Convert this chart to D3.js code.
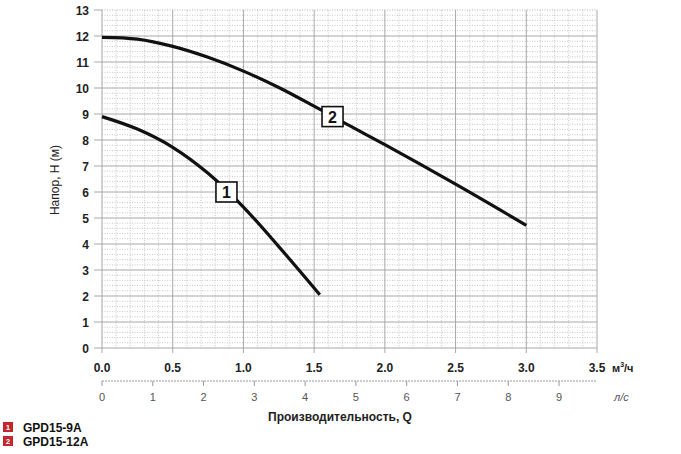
<!DOCTYPE html>
<html><head><meta charset="utf-8">
<script src="https://cdn.jsdelivr.net/npm/d3@7"></script>
<style>body{margin:0;background:#fff}svg{display:block;font-family:"Liberation Sans",Arial,sans-serif}</style>
</head><body><svg id="c" width="681" height="454"></svg>
<script>
const curve1 = [[0,8.9],[0.25,8.42],[0.5,7.72],[0.75,6.72],[1.0,5.42],[1.25,3.9],[1.54,2.05]];
const curve2 = [[0,11.95],[0.25,11.88],[0.5,11.6],[0.75,11.18],[1.0,10.65],[1.25,10.02],[1.5,9.3],[1.75,8.55],[2.0,7.82],[2.5,6.3],[3.0,4.72]];
const seriesNames = ["GPD15-9A","GPD15-12A"];
const labelPos = [[0.88,6.0],[1.63,8.9]];
const xTicks = [0,0.5,1,1.5,2,2.5,3,3.5];
const yTicks = d3.range(0,14);
const lsTicks = [0,1,2,3,4,5,6,7,8,9];

const svg = d3.select("#c");
const x = d3.scaleLinear().domain([0,3.5]).range([102,597]);
const y = d3.scaleLinear().domain([0,13]).range([348,10]);
const xl = d3.scaleLinear().domain([0,9]).range([102,559]);

const g = svg.append("g");
g.selectAll(".mx").data(d3.range(0,35).map(i=>i/10).filter((d,i)=>i%5!==0)).join("line")
 .attr("x1",d=>x(d)).attr("x2",d=>x(d)).attr("y1",y(13)).attr("y2",y(0))
 .attr("stroke","#c8c8c8").attr("stroke-width",1).attr("stroke-dasharray","1,1.5");
g.selectAll(".my").data(d3.range(0,66).map(i=>i/5).filter((d,i)=>i%5!==0)).join("line")
 .attr("x1",x(0)).attr("x2",x(3.5)).attr("y1",d=>y(d)).attr("y2",d=>y(d))
 .attr("stroke","#c8c8c8").attr("stroke-width",1).attr("stroke-dasharray","1,1.5");
g.append("line").attr("x1",x(0)).attr("x2",x(3.5)).attr("y1",y(13)).attr("y2",y(13))
 .attr("stroke","#b0b0b0").attr("stroke-dasharray","1,1.5");
g.selectAll(".Mx").data(xTicks).join("line")
 .attr("x1",d=>x(d)).attr("x2",d=>x(d)).attr("y1",y(13)).attr("y2",y(0)+5)
 .attr("stroke","#a8a8a8").attr("stroke-width",1);
g.selectAll(".My").data(yTicks.filter(d=>d<13)).join("line")
 .attr("x1",x(0)-8).attr("x2",x(3.5)).attr("y1",d=>y(d)).attr("y2",d=>y(d))
 .attr("stroke","#a8a8a8").attr("stroke-width",1);
g.append("line").attr("x1",x(0)-8).attr("x2",x(0)).attr("y1",y(13)).attr("y2",y(13)).attr("stroke","#a8a8a8");

svg.append("g").selectAll("text").data(yTicks).join("text")
 .attr("x",89).attr("y",d=>y(d)+4.5).attr("text-anchor","end")
 .attr("font-size",12).attr("font-weight","bold").attr("fill","#222").text(d=>d);
svg.append("g").selectAll("text").data(xTicks).join("text")
 .attr("x",d=>x(d)).attr("y",372).attr("text-anchor","middle")
 .attr("font-size",12).attr("font-weight","bold").attr("fill","#222").text(d=>d.toFixed(1));
svg.append("text").attr("x",612).attr("y",372).attr("font-size",11).attr("font-weight","bold").attr("fill","#222")
 .html('м<tspan font-size="7" dy="-5">3</tspan><tspan dy="5">/ч</tspan>');

svg.append("line").attr("x1",x(0)).attr("x2",x(3.5)).attr("y1",381).attr("y2",381)
 .attr("stroke","#999").attr("stroke-dasharray","2,1");
svg.append("g").selectAll("line").data(lsTicks).join("line")
 .attr("x1",d=>xl(d)).attr("x2",d=>xl(d)).attr("y1",381).attr("y2",386).attr("stroke","#999");
svg.append("g").selectAll("text").data(lsTicks).join("text")
 .attr("x",d=>xl(d)).attr("y",401).attr("text-anchor","middle")
 .attr("font-size",11).attr("fill","#555").text(d=>d);
svg.append("text").attr("x",614).attr("y",401).attr("font-size",11).attr("font-style","italic").attr("fill","#555").text("л/с");

svg.append("text").attr("x",340).attr("y",421).attr("text-anchor","middle")
 .attr("font-size",12).attr("font-weight","bold").attr("fill","#222").text("Производительность, Q");
svg.append("text").attr("transform","translate(59,180) rotate(-90)").attr("text-anchor","middle")
 .attr("font-size",12).attr("fill","#222").text("Напор, H (м)");

const line = d3.line().x(d=>x(d[0])).y(d=>y(d[1])).curve(d3.curveCatmullRom);
[curve1,curve2].forEach(c=>{
  svg.append("path").attr("d",line(c)).attr("fill","none").attr("stroke","#111")
   .attr("stroke-width",3.2);
});
labelPos.forEach((p,i)=>{
  const cx=x(p[0]), cy=y(p[1]);
  svg.append("rect").attr("x",cx-10.5).attr("y",cy-10).attr("width",21).attr("height",20)
   .attr("fill","#fff").attr("stroke","#111").attr("stroke-width",1.6);
  svg.append("text").attr("x",cx).attr("y",cy+6).attr("text-anchor","middle")
   .attr("font-size",16).attr("font-weight","bold").attr("fill","#111").text(i+1);
});

seriesNames.forEach((n,i)=>{
  const ly = 427 + i*14;
  svg.append("rect").attr("x",3).attr("y",ly-5).attr("width",10).attr("height",10).attr("fill","#c3262c");
  svg.append("text").attr("x",8).attr("y",ly+3).attr("text-anchor","middle").attr("font-size",8)
   .attr("font-weight","bold").attr("fill","#fff").text(i+1);
  svg.append("text").attr("x",23).attr("y",ly+4.5).attr("font-size",12).attr("font-weight","bold")
   .attr("fill","#111").text(n);
});
</script></body></html>
